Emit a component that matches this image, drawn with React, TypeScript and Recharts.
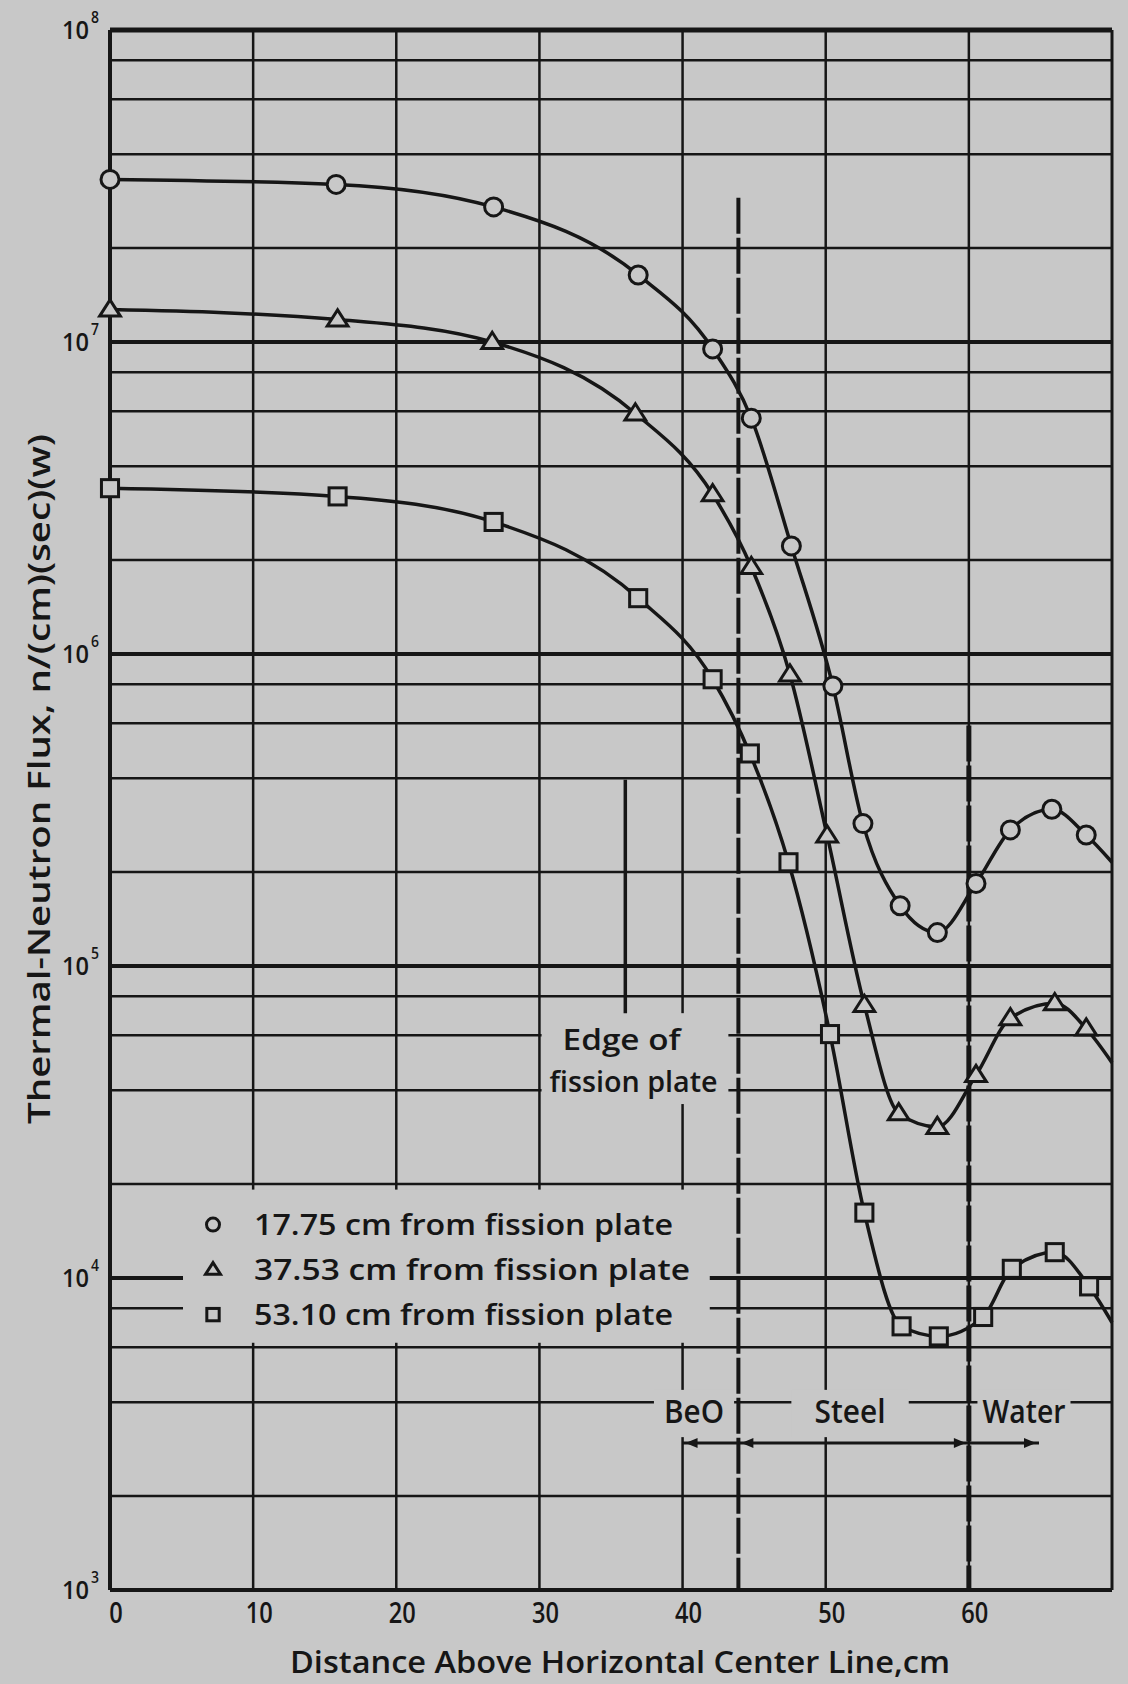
import React from "react";
import {
  CartesianGrid,
  Line,
  LineChart,
  ReferenceArea,
  ReferenceLine,
  XAxis,
  YAxis,
} from "recharts";

const PAPER = "#c8c8c8";
const INK = "#161616";
const FONT = "'Open Sans', 'DejaVu Sans', sans-serif";

// distance above horizontal center line (cm) and thermal-neutron flux, n/(cm)(sec)(w)
const distance1775 = [0, 15.8, 26.8, 36.9, 42.1, 44.8, 47.6, 50.5, 52.6, 55.2, 57.8, 60.5, 62.9, 65.8, 68.2];
const flux1775 = [3.32e7, 3.2e7, 2.71e7, 1.64e7, 9.5e6, 5.7e6, 2.22e6, 7.9e5, 2.86e5, 1.56e5, 1.28e5, 1.84e5, 2.73e5, 3.18e5, 2.63e5];

const distance3753 = [0, 15.9, 26.7, 36.7, 42.1, 44.8, 47.5, 50.1, 52.7, 55.1, 57.8, 60.5, 62.9, 66.0, 68.2];
const flux3753 = [1.27e7, 1.18e7, 1.0e7, 5.9e6, 3.25e6, 1.9e6, 8.6e5, 2.62e5, 7.5e4, 3.37e4, 3.05e4, 4.47e4, 6.8e4, 7.6e4, 6.3e4];

const distance5310 = [0, 15.9, 26.8, 36.9, 42.1, 44.7, 47.4, 50.3, 52.7, 55.3, 57.9, 61.0, 63.0, 66.0, 68.4];
const flux5310 = [3.4e6, 3.2e6, 2.65e6, 1.51e6, 8.3e5, 4.8e5, 2.15e5, 6.05e4, 1.62e4, 7.0e3, 6.5e3, 7.5e3, 1.07e4, 1.21e4, 9.4e3];

// where each curve runs off the right edge of the sheet (no marker there)
const edgeDistance = 70;
const edgeFlux = [2.15e5, 4.9e4, 7.2e3];

const seriesLabels = [
  "17.75 cm from fission plate",
  "37.53 cm from fission plate",
  "53.10 cm from fission plate",
];

const distanceTicks = [0, 10, 20, 30, 40, 50, 60];
const decadeTicks = [1e3, 1e4, 1e5, 1e6, 1e7, 1e8];
const minorFlux = [
  2e3, 4e3, 6e3, 8e3, 2e4, 4e4, 6e4, 8e4, 2e5, 4e5, 6e5, 8e5,
  2e6, 4e6, 6e6, 8e6, 2e7, 4e7, 6e7, 8e7,
];

const regionLabels = ["BeO", "Steel", "Water"];

type Mark = "circle" | "triangle" | "square";
type Pt = { x: number; flux: number; mark: boolean };

function buildSeries(xs: number[], ys: number[], edge: number): Pt[] {
  const pts = xs.map((x, i) => ({ x, flux: ys[i], mark: true }));
  pts.push({ x: edgeDistance, flux: edge, mark: false });
  return pts;
}

const series: { mark: Mark; data: Pt[] }[] = [
  { mark: "circle", data: buildSeries(distance1775, flux1775, edgeFlux[0]) },
  { mark: "triangle", data: buildSeries(distance3753, flux3753, edgeFlux[1]) },
  { mark: "square", data: buildSeries(distance5310, flux5310, edgeFlux[2]) },
];

function drawMark(mark: Mark, cx: number, cy: number, size: number) {
  if (mark === "circle") {
    return <circle cx={cx} cy={cy} r={size / 2} fill={PAPER} stroke={INK} strokeWidth={3} />;
  }
  if (mark === "square") {
    const s = size * 0.95;
    return <rect x={cx - s / 2} y={cy - s / 2} width={s} height={s} fill={PAPER} stroke={INK} strokeWidth={3} />;
  }
  const h = size * 0.9;
  const w = size * 1.15;
  return (
    <polygon
      points={`${cx},${cy - h * 0.6} ${cx - w / 2},${cy + h * 0.4} ${cx + w / 2},${cy + h * 0.4}`}
      fill={PAPER}
      stroke={INK}
      strokeWidth={3}
    />
  );
}

const renderDot = (mark: Mark) => (props: any) => {
  const { cx, cy, payload, index } = props;
  if (!payload || !payload.mark || cx == null || cy == null) return <g key={index} />;
  return <g key={index}>{drawMark(mark, cx, cy, 18)}</g>;
};

function Lettering(props: any) {
  const { children, size, length, anchor = "middle", ...rest } = props;
  return (
    <text
      fontFamily={FONT}
      fontWeight={600}
      fontSize={size}
      fill={INK}
      textAnchor={anchor}
      textLength={length}
      lengthAdjust="spacingAndGlyphs"
      {...rest}
    >
      {children}
    </text>
  );
}

function DistanceTick(props: any) {
  const { x, y, payload } = props;
  const s = String(payload.value);
  return (
    <Lettering x={x + 6} y={y + 33} size={29} length={13.5 * s.length}>
      {s}
    </Lettering>
  );
}

function FluxTick(props: any) {
  const { x, y, payload } = props;
  const exp = Math.round(Math.log10(payload.value));
  return (
    <g>
      <Lettering x={x - 21} y={y + 9} size={26} length={27} anchor="end">
        10
      </Lettering>
      <Lettering x={x - 19} y={y - 7} size={16} length={8} anchor="start">
        {exp}
      </Lettering>
    </g>
  );
}

const renderXTitle = (props: any) => {
  const vb = props.viewBox || { x: 110, y: 1590, width: 1002, height: 94 };
  return (
    <Lettering x={vb.x + 510} y={vb.y + 83} size={31} length={660}>
      Distance Above Horizontal Center Line,cm
    </Lettering>
  );
};

const renderYTitle = (props: any) => {
  const vb = props.viewBox || { x: 0, y: 30, width: 110, height: 1560 };
  const cx = 50;
  const cy = vb.y + vb.height / 2 - 31;
  return (
    <Lettering x={cx} y={cy} size={30} length={690} transform={`rotate(-90, ${cx}, ${cy})`}>
      Thermal-Neutron Flux, n/(cm)(sec)(w)
    </Lettering>
  );
};

// paper-coloured patch that blanks the grid behind a note
const maskShape = (draw: (x: number, y: number, w: number, h: number) => React.ReactNode) => (p: any) => {
  const { x, y, width, height } = p;
  return (
    <g>
      <rect x={x} y={y} width={width} height={height} fill={PAPER} />
      {draw(x, y, width, height)}
    </g>
  );
};

const edgeNote = maskShape((x, y) => (
  <g>
    <Lettering x={x + 80} y={y + 37} size={29} length={118}>
      Edge of
    </Lettering>
    <Lettering x={x + 92} y={y + 79} size={29} length={168}>
      fission plate
    </Lettering>
  </g>
));

const legendNote = maskShape((x, y) => (
  <g>
    {seriesLabels.map((label, i) => {
      const cy = y + 35 + i * 45;
      return (
        <g key={label}>
          {drawMark(series[i].mark, x + 30, cy, 13)}
          <Lettering x={x + 71} y={cy + 10} size={29} length={i === 1 ? 436 : 419} anchor="start">
            {label}
          </Lettering>
        </g>
      );
    })}
  </g>
));

const regionNote = (label: string, len: number) =>
  maskShape((x, y, w) => (
    <Lettering x={x + w / 2} y={y + 33} size={33} length={len}>
      {label}
    </Lettering>
  ));

const arrowShape = (headStart: boolean, headEnd: boolean) => (p: any) => {
  const { x1, y1, x2, y2 } = p;
  const head = (tx: number, ty: number, dir: number) => (
    <polygon points={`${tx},${ty} ${tx - dir * 12},${ty - 5} ${tx - dir * 12},${ty + 5}`} fill={INK} />
  );
  const a = Math.min(x1, x2);
  const b = Math.max(x1, x2);
  return (
    <g>
      <line x1={a} y1={y1} x2={b} y2={y2} stroke={INK} strokeWidth={3} />
      {headStart && head(a + 3, y1, -1)}
      {headEnd && head(b - 3, y2, 1)}
    </g>
  );
};

export default function App() {
  return (
    <div style={{ width: 1128, height: 1684, background: PAPER }}>
      <style>{`body{margin:0;background:${PAPER};}`}</style>
      <LineChart width={1128} height={1684} margin={{ top: 30, right: 16, bottom: 0, left: 0 }}>
        <CartesianGrid
          horizontalValues={minorFlux}
          verticalValues={[10, 20, 30, 40, 50, 60]}
          stroke={INK}
          strokeWidth={2.5}
        />
        <XAxis
          type="number"
          dataKey="x"
          domain={[0, 70]}
          tickCount={8}
          ticks={distanceTicks}
          interval={0}
          height={94}
          tickSize={0}
          tickMargin={0}
          tickLine={false}
          axisLine={{ stroke: INK, strokeWidth: 4 }}
          tick={<DistanceTick />}
          label={renderXTitle}
        />
        <YAxis
          type="number"
          scale="log"
          domain={[1e3, 1e8]}
          ticks={decadeTicks}
          interval={0}
          width={110}
          tickSize={0}
          tickMargin={0}
          tickLine={false}
          axisLine={{ stroke: INK, strokeWidth: 4 }}
          tick={<FluxTick />}
          label={renderYTitle}
        />

        {[1e5, 1e6, 1e7].map((v) => (
          <ReferenceLine key={v} y={v} stroke={INK} strokeWidth={4} />
        ))}
        <ReferenceLine y={1e8} stroke={INK} strokeWidth={5} />
        <ReferenceLine segment={[{ x: 0, y: 1e4 }, { x: 5.1, y: 1e4 }]} stroke={INK} strokeWidth={4} />
        <ReferenceLine segment={[{ x: 41.9, y: 1e4 }, { x: 70, y: 1e4 }]} stroke={INK} strokeWidth={4} />
        <ReferenceLine x={70} stroke={INK} strokeWidth={3} />

        {/* material boundaries */}
        <ReferenceLine
          segment={[{ x: 43.9, y: 2.9e7 }, { x: 43.9, y: 1e3 }]}
          stroke={INK}
          strokeWidth={4}
          strokeDasharray="36 4"
        />
        <ReferenceLine
          segment={[{ x: 60, y: 5.9e5 }, { x: 60, y: 1e3 }]}
          stroke={INK}
          strokeWidth={5}
          strokeDasharray="36 4"
        />
        <ReferenceLine segment={[{ x: 36, y: 7.06e4 }, { x: 36, y: 3.95e5 }]} stroke={INK} strokeWidth={3.5} />

        <ReferenceArea x1={30.15} x2={43.2} y1={3.61e4} y2={7.06e4} fillOpacity={1} shape={edgeNote} />
        <ReferenceArea x1={5.1} x2={41.9} y1={6.2e3} y2={1.92e4} fillOpacity={1} shape={legendNote} />
        <ReferenceArea x1={38.0} x2={43.6} y1={3.09e3} y2={4.38e3} fillOpacity={1} shape={regionNote(regionLabels[0], 60)} />
        <ReferenceArea x1={47.6} x2={55.8} y1={3.09e3} y2={4.38e3} fillOpacity={1} shape={regionNote(regionLabels[1], 71)} />
        <ReferenceArea x1={60.6} x2={67.1} y1={3.09e3} y2={4.38e3} fillOpacity={1} shape={regionNote(regionLabels[2], 83)} />

        <ReferenceLine segment={[{ x: 40, y: 2.96e3 }, { x: 43.9, y: 2.96e3 }]} shape={arrowShape(true, false)} />
        <ReferenceLine segment={[{ x: 43.9, y: 2.96e3 }, { x: 60, y: 2.96e3 }]} shape={arrowShape(true, true)} />
        <ReferenceLine segment={[{ x: 60, y: 2.96e3 }, { x: 64.9, y: 2.96e3 }]} shape={arrowShape(false, true)} />

        {series.map((s) => (
          <Line
            key={s.mark}
            data={s.data}
            dataKey="flux"
            type="monotone"
            stroke={INK}
            strokeWidth={3.5}
            dot={renderDot(s.mark)}
            activeDot={false}
            isAnimationActive={false}
          />
        ))}
      </LineChart>
    </div>
  );
}
